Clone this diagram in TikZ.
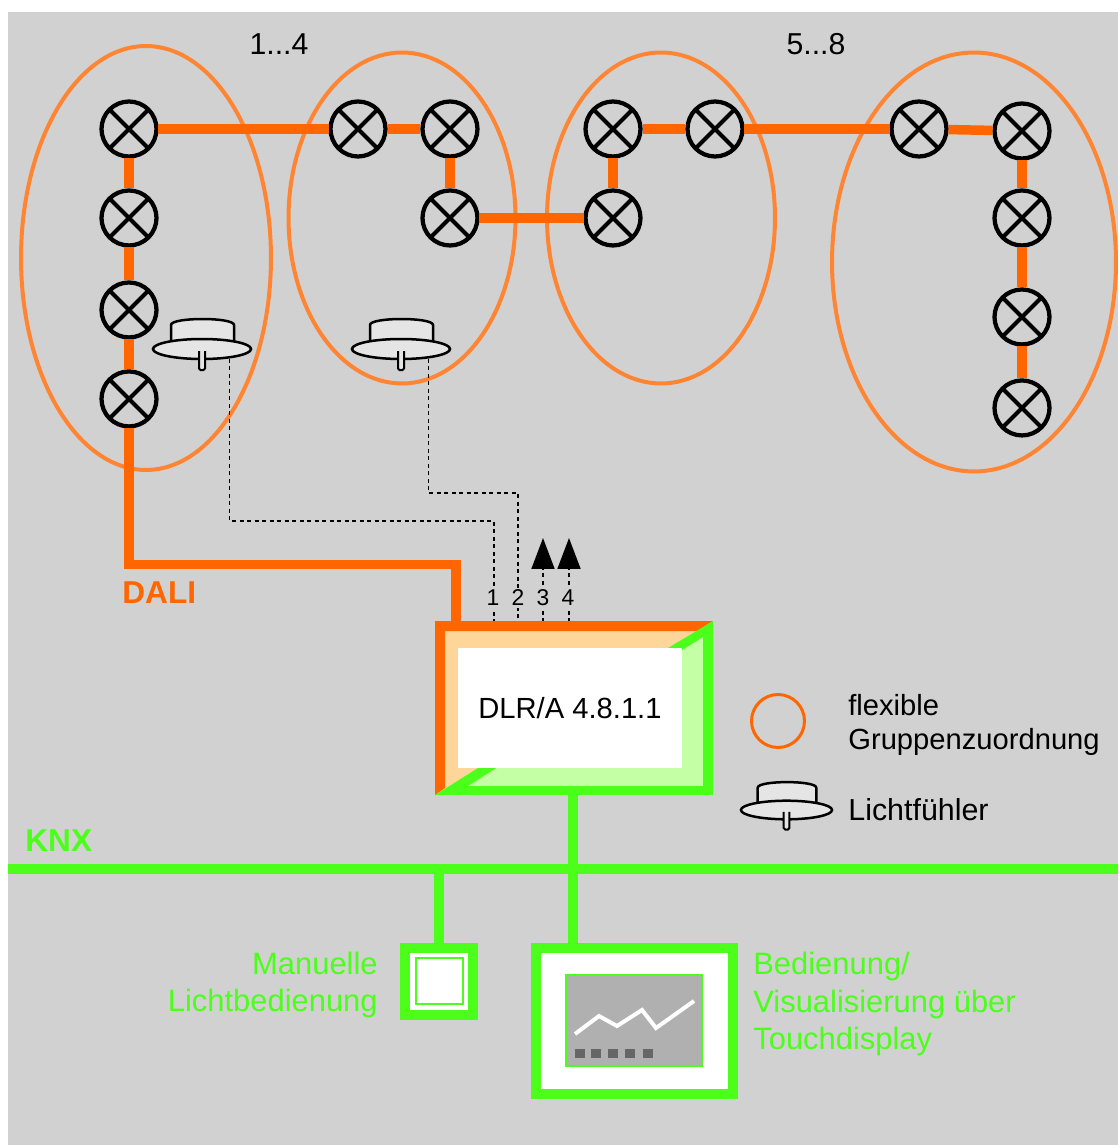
\documentclass[tikz,border=0pt]{standalone}
\usepackage{xcolor}
\usepackage{fontspec}
\setmainfont{Liberation Sans}
\usetikzlibrary{shapes.geometric, arrows.meta}
\definecolor{panelgray}{HTML}{D1D1D1}
\definecolor{daliorange}{HTML}{FF6600}
\definecolor{ringorange}{HTML}{FF8533}
\definecolor{dalilight}{HTML}{FFD699}
\definecolor{knxgreen}{HTML}{4BFF1B}
\definecolor{knxlight}{HTML}{C4FFA6}
\tikzstyle{lamp} = [circle, draw=black, line width=0.085cm, minimum size=1.1cm, inner sep=0, outer sep=0.04cm, path picture={\draw [line width=0.08cm] (path picture bounding box.north west) -- (path picture bounding box.south east) (path picture bounding box.south west) -- (path picture bounding box.north east);}]
\tikzstyle{group} = [ellipse, draw=ringorange, line width=0.08cm, inner sep=0]
\tikzstyle{daliline} = [draw=daliorange, line width=0.19cm]
\tikzstyle{knxline} = [draw=knxgreen, line width=0.19cm]
\tikzstyle{sensorline} = [draw=black, line width=0.035cm, dash pattern=on 0.08cm off 0.07cm]
\tikzstyle{caption} = [font=\fontsize{16.6}{19.3}\selectfont, inner sep=0, align=left]
\tikzstyle{greencaption} = [font=\fontsize{17.6}{21.6}\selectfont, text=knxgreen, inner sep=0]
\tikzstyle{portlabel} = [font=\fontsize{13}{15}\selectfont, fill=panelgray, inner sep=0.04cm]
\tikzstyle{buslabel} = [font=\fontsize{18}{22}\selectfont\bfseries, inner sep=0]
\tikzstyle{porttip} = [-{Triangle[length=0.62cm, width=0.46cm]}]
\tikzset{
  lightsensor/.pic={
    \draw [fill=black!10, line width=0.05cm] (-31,-6) -- (-31,-24) .. controls (-31,-32) and (32,-32) .. (32,-24) -- (32,-6);
    \draw [fill=black!10, line width=0.05cm] (0,0) ellipse [x radius=49, y radius=10];
    \draw [fill=black!10, line width=0.04cm, rounded corners=0.03cm] (-3,2) -- (-3,21) -- (3,21) -- (3,2);
    \coordinate (-out) at (27.5,10);
  }
}

\begin{document}
\begin{tikzpicture}[x=0.02cm, y=-0.02cm, node distance=1.78cm]
    \useasboundingbox (0,0) rectangle (1118,1145);
    \fill [panelgray] (8,12) rectangle (1118,1145);

    % flexible groups
    \node (group1) [group, minimum width=5cm, minimum height=8.48cm] at (146,258) {};
    \node (group2) [group, minimum width=4.54cm, minimum height=6.62cm] at (402,218) {};
    \node (group3) [group, minimum width=4.56cm, minimum height=6.62cm] at (661,218) {};
    \node (group4) [group, minimum width=5.68cm, minimum height=8.38cm] at (974,262) {};
    \node (range1) [caption, font=\fontsize{17.2}{20}\selectfont] at (279,44) {1...4};
    \node (range2) [caption, font=\fontsize{17.2}{20}\selectfont] at (816,44) {5...8};

    % lamps
    \node (lampa1) [lamp] at (129,129) {};
    \node (lampa2) [lamp, below of=lampa1] {};
    \node (lampa3) [lamp, below of=lampa2, yshift=-0.06cm] {};
    \node (lampa4) [lamp, below of=lampa3] {};
    \node (lampb1) [lamp] at (358,129) {};
    \node (lampb2) [lamp, right of=lampb1, xshift=0.06cm] {};
    \node (lampb3) [lamp, below of=lampb2] {};
    \node (lampc1) [lamp] at (613,129) {};
    \node (lampc2) [lamp, right of=lampc1, xshift=0.26cm] {};
    \node (lampc3) [lamp, below of=lampc1] {};
    \node (lampd1) [lamp] at (919,129) {};
    \node (lampd2) [lamp] at (1022,131) {};
    \node (lampd3) [lamp, below of=lampd2, yshift=0.04cm] {};
    \node (lampd4) [lamp, below of=lampd3, yshift=-0.2cm] {};
    \node (lampd5) [lamp, below of=lampd4, yshift=-0.04cm] {};

    \draw [daliline] (lampa1) -- (lampa2);
    \draw [daliline] (lampa2) -- (lampa3);
    \draw [daliline] (lampa3) -- (lampa4);
    \draw [daliline] (lampa1) -- (lampb1);
    \draw [daliline] (lampb1) -- (lampb2);
    \draw [daliline] (lampb2) -- (lampb3);
    \draw [daliline] (lampb3) -- (lampc3);
    \draw [daliline] (lampc3) -- (lampc1);
    \draw [daliline] (lampc1) -- (lampc2);
    \draw [daliline] (lampc2) -- (lampd1);
    \draw [daliline] (lampd1) -- (lampd2);
    \draw [daliline] (lampd2) -- (lampd3);
    \draw [daliline] (lampd3) -- (lampd4);
    \draw [daliline] (lampd4) -- (lampd5);

    % sensors and their lines
    \pic (sensora) at (202,349) {lightsensor};
    \pic (sensorb) at (401,349) {lightsensor};
    \coordinate (jointa) at (494,521);
    \coordinate (jointb) at (518,493);
    \coordinate (port1) at (494,622);
    \coordinate (port2) at (518,622);
    \coordinate (port3) at (543,622);
    \coordinate (port4) at (569,622);
    \coordinate (tip3) at (543,538);
    \coordinate (tip4) at (569,538);
    \draw [sensorline] (sensora-out) |- (jointa) -- (port1);
    \draw [sensorline] (sensorb-out) |- (jointb) -- (port2);
    \draw [sensorline, porttip] (port3) -- (tip3);
    \draw [sensorline, porttip] (port4) -- (tip4);
    \node (label1) [portlabel] at (493,598) {1};
    \node (label2) [portlabel] at (518,598) {2};
    \node (label3) [portlabel] at (543,598) {3};
    \node (label4) [portlabel] at (568,598) {4};

    % DALI line
    \coordinate (dalientry) at (456,622);
    \draw [daliline] (lampa4) |- (dalientry |- 0,564.5) -- (dalientry);
    \node (dalilabel) [buslabel, text=daliorange, anchor=west] at (122,593) {DALI};

    % actuator
    \node (dlrbox) [rectangle, fill=dalilight, minimum width=5.56cm, minimum height=3.48cm, inner sep=0, outer sep=0] at (574,708) {};
    \fill [knxlight] (713,621) -- (713,795) -- (435,795) -- cycle;
    \fill [daliorange] (435,795) -- (435,621) -- (713,621) -- (697,631) -- (445,631) -- (445,788) -- cycle;
    \fill [knxgreen] (713,621) -- (713,795) -- (435,795) -- (478,768) -- (496,768) -- (468,786) -- (703,786) -- (703,637) -- (682,650) -- (668,648) -- cycle;
    \node (dlr) [caption, rectangle, fill=white, minimum width=4.48cm, minimum height=2.4cm] at (570,708) {DLR/A 4.8.1.1};

    % KNX line
    \coordinate (busleft) at (8,869);
    \coordinate (busright) at (1118,869);
    \coordinate (knxout) at (573,795);
    \node (switch) [rectangle, draw=knxgreen, fill=white, line width=0.2cm, minimum width=1.37cm, minimum height=1.34cm, inner sep=0, outer sep=0] at (439,981.5) {};
    \node (switchkey) [rectangle, draw=knxgreen, fill=white, line width=0.04cm, minimum width=0.94cm, minimum height=0.92cm, inner sep=0] at (439,981) {};
    \node (display) [rectangle, draw=knxgreen, fill=white, line width=0.2cm, minimum width=3.94cm, minimum height=2.92cm, inner sep=0, outer sep=0] at (634.5,1021) {};
    \node (screen) [rectangle, draw=knxgreen, fill=black!31, line width=0.04cm, minimum width=2.72cm, minimum height=1.82cm, inner sep=0] at (634,1020.5) {};
    \draw [knxline] (busleft) -- (busright);
    \draw [knxline] (knxout) -- (knxout |- display.north);
    \draw [knxline] (switch.north) -- (switch.north |- busleft);
    \node (knxlabel) [buslabel, text=knxgreen, anchor=west] at (25,841) {KNX};

    % display content
    \draw [white, line width=0.08cm] (575,1034) -- (599,1016) -- (617,1026) -- (642,1010) -- (656,1028) -- (694,1001);
    \foreach \x in {580,596,613,630,648}
        \fill [black!60] (\x-5,1049) rectangle (\x+5,1058);

    % texts
    \node (manual) [greencaption, anchor=east, align=right] at (378,985) {Manuelle\\Lichtbedienung};
    \node (visual) [greencaption, anchor=west, align=left] at (753,1004) {Bedienung/\\Visualisierung über\\Touchdisplay};

    % legend
    \node (legendring) [circle, draw=daliorange, line width=0.06cm, minimum size=1.06cm, inner sep=0] at (778,721) {};
    \node (legendgroup) [caption, anchor=west] at (848,725) {flexible\\Gruppenzuordnung};
    \pic [scale=0.93] (legendsensor) at (786.5,810) {lightsensor};
    \node (legendlight) [caption, anchor=west, font=\fontsize{17.3}{20}\selectfont] at (848,810) {Lichtfühler};
\end{tikzpicture}
\end{document}
